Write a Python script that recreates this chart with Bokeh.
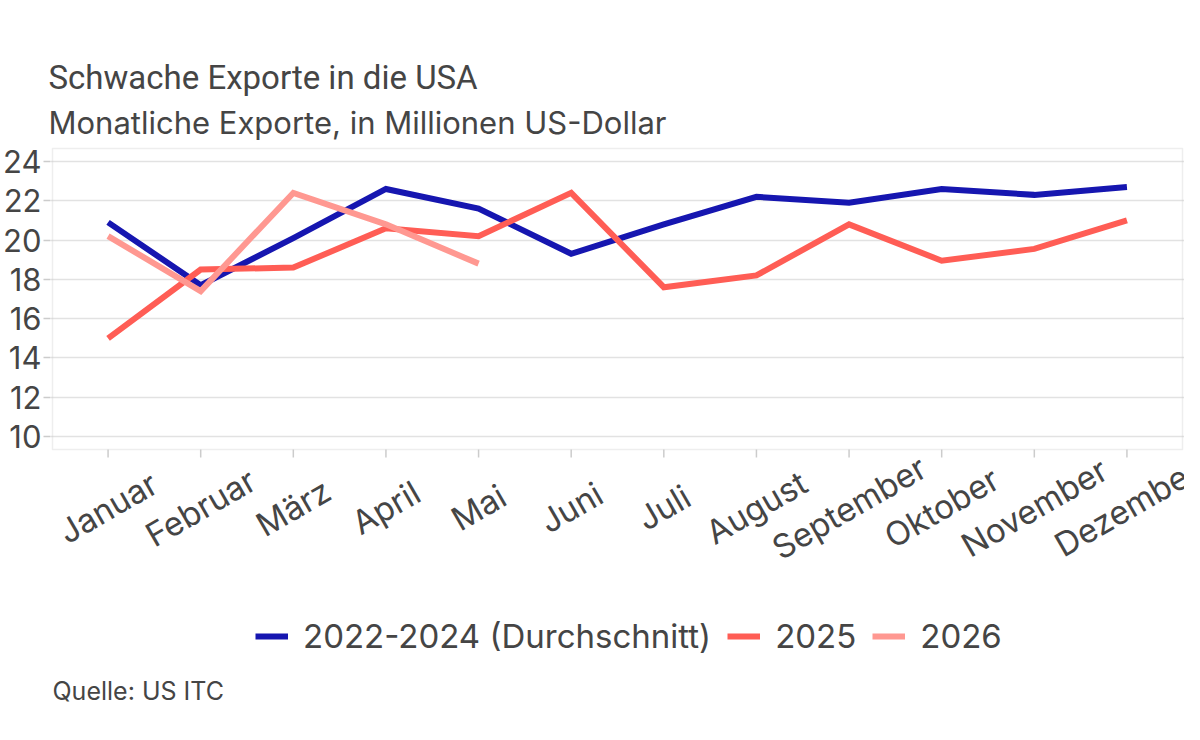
from math import pi
from bokeh.plotting import figure
from bokeh.models import (Range1d, FixedTicker, Label, Legend, LegendItem, Title,
                          LinearAxis, Grid, BoxAnnotation)
from bokeh.core.properties import value
from bokeh.embed import file_html
from bokeh.resources import INLINE

months = ["Januar", "Februar", "März", "April", "Mai", "Juni", "Juli",
          "August", "September", "Oktober", "November", "Dezember"]
avg_2022_2024 = [20.9, 17.7, 20.1, 22.6, 21.6, 19.3, 20.8, 22.2, 21.9, 22.6, 22.3, 22.7]
exports_2025 = [15.0, 18.5, 18.6, 20.6, 20.2, 22.4, 17.6, 18.2, 20.8, 18.95, 19.55, 21.0]
exports_2026 = [20.2, 17.4, 22.4, 20.8, 18.8]
y_ticks = [10, 12, 14, 16, 18, 20, 22, 24]

series_names = ["2022-2024 (Durchschnitt)", "2025", "2026"]
colors = ["#1616b0", "#ff5d55", "#ff9891"]

FONT = "Inter"
TXT = "#454545"
GRAY = "#c8c8c8"

# ---- layout constants (pixels in the figure) ----
W, H = 1184, 724
FRAME_L, FRAME_T = 46, 146          # drawing frame (covers chart + lower band)
BOX_L, BOX_R = 48, 1182             # plotting box
BOX_T, BOX_B = 148, 449
Y0, Y1 = 9.34, 24.66                # value range of the box
X0, X1 = -0.6, len(months) - 1 + 0.6

ppx = (BOX_R - BOX_L) / (X1 - X0)   # px per month
ppy = (BOX_B - BOX_T) / (Y1 - Y0)   # px per value unit
frame_h = H - FRAME_T

x_range = Range1d(X0 - (BOX_L - FRAME_L) / ppx, X1 + (W - BOX_R) / ppx)
main_range = Range1d(Y0 - (H - BOX_B) / ppy, Y1 + (BOX_T - FRAME_T) / ppy)

p = figure(width=W, height=H, output_backend="svg", toolbar_location=None,
           x_range=x_range, y_range=Range1d(-frame_h, 0),
           x_axis_location=None, y_axis_location=None,
           min_border_left=FRAME_L, min_border_right=0,
           min_border_top=FRAME_T, min_border_bottom=0)
p.title = None
p.outline_line_color = None
p.grid.visible = False
p.extra_y_ranges = {"main": main_range}

def py(fig_y):
    """figure pixel row -> default (pixel) range value"""
    return -(fig_y - FRAME_T)

# titles
sub = Title(text="Monatliche Exporte, in Millionen US-Dollar", align="left",
            text_font=FONT, text_font_size="31px", text_font_style="normal",
            text_color=TXT, offset=-2, standoff=11)
main = Title(text="Schwache Exporte in die USA", align="left",
             text_font="Roboto", text_font_size="33px", text_font_style="normal",
             text_color=TXT, offset=-2, standoff=0)
p.add_layout(sub, "above")
p.add_layout(main, "above")

# y axis and grid on the value range
yax = LinearAxis(y_range_name="main", ticker=FixedTicker(ticks=y_ticks),
                 major_label_text_font=FONT, major_label_text_font_size="31px",
                 major_label_text_color=TXT, major_tick_out=7, major_tick_in=0,
                 major_label_standoff=2, minor_tick_line_color=None,
                 major_tick_line_color="#cccccc", major_tick_line_width=1.5,
                 axis_line_color=None)
p.add_layout(yax, "left")
p.add_layout(Grid(dimension=1, ticker=FixedTicker(ticks=y_ticks), y_range_name="main",
                  grid_line_color="#e2e2e2", grid_line_width=1.5))

# plot box outline
p.add_layout(BoxAnnotation(left=X0, right=X1, bottom=Y0, top=Y1, y_range_name="main",
                           fill_color=None, line_color=GRAY, line_width=1.5))

# x ticks below the box
x_idx = list(range(len(months)))
p.segment(x0=x_idx, x1=x_idx, y0=[Y0] * len(x_idx), y1=[Y0 - 8 / ppy] * len(x_idx),
          y_range_name="main", line_color="#cccccc", line_width=1.5)

# data lines
r1 = p.line(x_idx, avg_2022_2024, y_range_name="main", line_color=colors[0],
            line_width=6, line_join="miter")
r2 = p.line(x_idx, exports_2025, y_range_name="main", line_color=colors[1],
            line_width=6, line_join="miter")
r3 = p.line(x_idx[:len(exports_2026)], exports_2026, y_range_name="main",
            line_color=colors[2], line_width=6, line_join="miter")

# month labels
p.text(x=x_idx, y=[py(507)] * len(x_idx), text=months, angle=pi / 6,
       text_align="center", text_baseline="middle",
       text_font=value(FONT), text_font_size="33px", text_color=TXT)

# legend
legend = Legend(items=[LegendItem(label=n, renderers=[r]) for n, r in
                       zip(series_names, [r1, r2, r3])],
                orientation="horizontal", location=(205, 68),
                label_text_font=FONT, label_text_font_size="33px", label_text_color=TXT,
                glyph_width=33, glyph_height=36, label_standoff=15, spacing=16,
                padding=0, margin=0, border_line_color=None, background_fill_alpha=0)
p.add_layout(legend)

# source
p.add_layout(Label(x=X0, y=py(690), text="Quelle: US ITC", text_baseline="middle",
                   text_align="left", text_font=FONT, text_font_size="25px",
                   text_color=TXT))

open("out.html", "w").write(file_html(p, INLINE))
